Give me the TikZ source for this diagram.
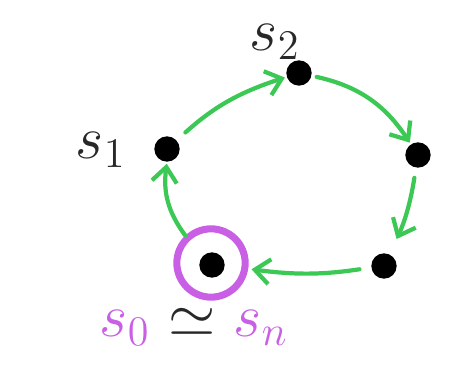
\documentclass[tikz,border=0pt]{standalone}
\usetikzlibrary{arrows.meta}
\definecolor{verde}{RGB}{60,200,85}
\definecolor{violeta}{RGB}{200,95,228}
\definecolor{tinta}{RGB}{40,40,40}

\begin{document}
\begin{tikzpicture}[>={Straight Barb[length=4.5mm, width=7.5mm]}, line width=3.6pt,
  punto/.style={circle, fill=black, inner sep=0pt, minimum size=0.76cm},
  flecha/.style={->, draw=verde, line cap=round},
  etiqueta/.style={text=tinta, font=\huge, scale=2.5, inner sep=0pt}]
  \useasboundingbox (0,0) rectangle (14.01,11.7);
  % estados del ciclo
  \node[punto] (s1) at (5.01,7.23) {};
  \node[punto] (s2) at (8.97,9.51) {};
  \node[punto] (s3) at (12.54,7.05) {};
  \node[punto] (s4) at (11.52,3.72) {};
  \node[punto] (s0) at (6.36,3.75) {};
  % anillo de s0 = sn
  \node[circle, draw=violeta, line width=6pt, minimum size=2.05cm] (s0r) at (6.33,3.81) {};
  % etiquetas
  \node[etiqueta] (l1) at (3.03,7.2) {$s_1$};
  \node[etiqueta] (l2) at (8.25,10.45) {$s_2$};
  \node[etiqueta] (l0) at (5.82,1.9) {\textcolor{violeta}{$s_0$} $\simeq$ \textcolor{violeta}{$s_n$}};
  % transiciones
  \draw[flecha, shorten <=0.3cm] (s1) to[bend left=12] (s2);
  \draw[flecha, shorten <=0.1cm] (s2) to[bend left=22] (s3);
  \draw[flecha, shorten <=0.25cm, shorten >=0.45cm] (s3) to[bend left=8] (s4);
  \draw[flecha, shorten <=0.3cm, shorten >=0.1cm] (s4) to[bend left=8] (s0r);
  \draw[flecha] (s0r) to[bend left=22] (s1);
\end{tikzpicture}
\end{document}
